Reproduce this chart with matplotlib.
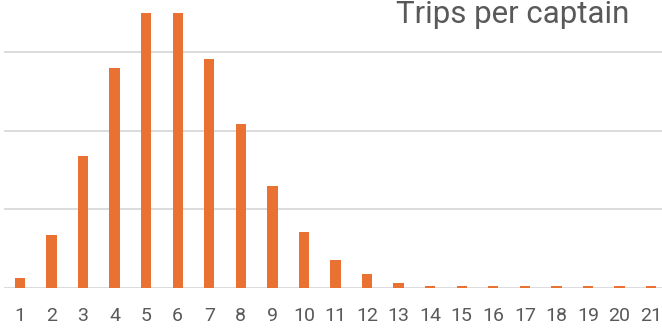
import numpy as np
import matplotlib
matplotlib.use("Agg")
import matplotlib.pyplot as plt

# number of trips per captain and how many captains made that many
trips = list(range(1, 22))
captains = [125, 670, 1675, 2800, 3500, 3500, 2910, 2080, 1290, 710,
            350, 170, 60, 20, 20, 20, 20, 20, 20, 20, 20]
title = "Trips per captain"

plt.rcParams['font.family'] = ['Roboto', 'DejaVu Sans']

fig = plt.figure(figsize=(6.62, 3.29), dpi=100)
ax = fig.add_axes([0.0063, 0.126, 1.001, 0.874])

x = np.arange(len(trips))
ax.bar(x, captains, width=0.33, color='#E97132', zorder=3)

ax.set_xlim(-0.5, len(trips) - 0.5)
ax.set_ylim(0, 3662)
ax.set_yticks([0, 1000, 2000, 3000])
ax.yaxis.grid(True, color='#d9d9d9', linewidth=1.3, zorder=0)
ax.set_yticklabels([])
ax.tick_params(axis='y', length=0)

ax.set_xticks(x)
ax.set_xticklabels([str(t) for t in trips], fontsize=14, color='#595959')
ax.tick_params(axis='x', length=0, pad=14)

for s in ax.spines.values():
    s.set_visible(False)

fig.text(0.775, 0.930, title, fontsize=22.5, color='#595959',
         ha='center', va='baseline')

fig.savefig("out.png", dpi=100)
